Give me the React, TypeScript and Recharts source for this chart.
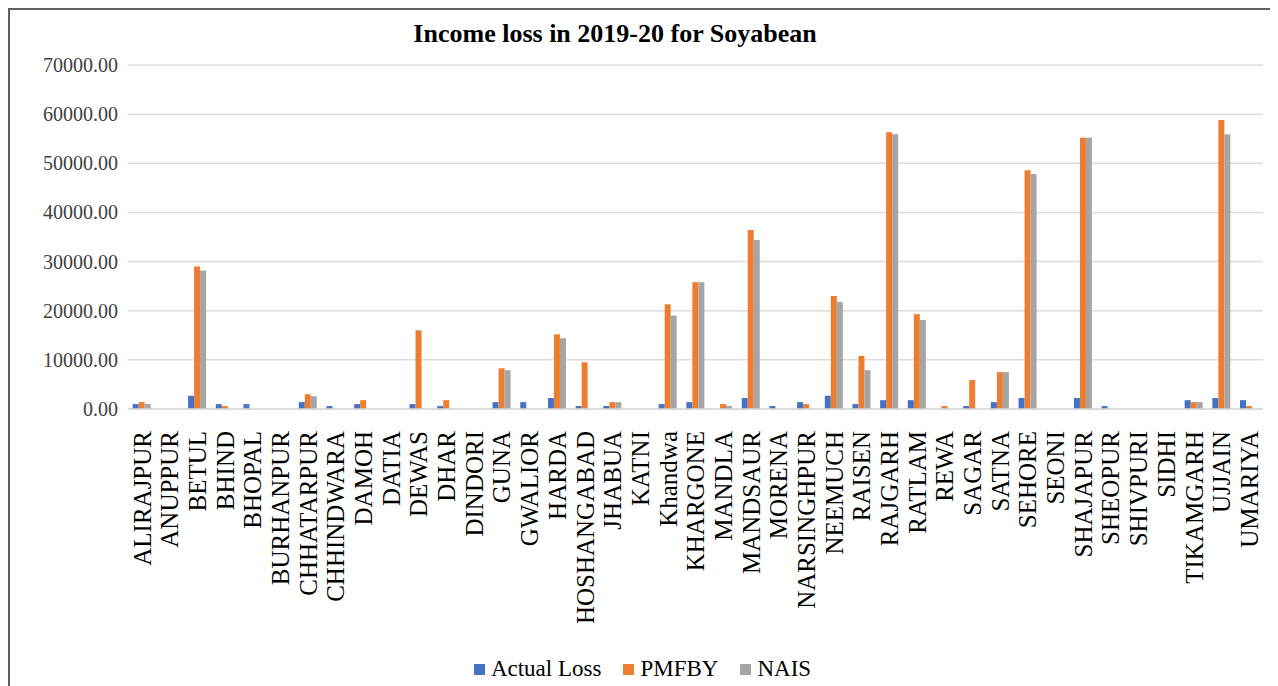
import React from 'react';
import { BarChart, Bar, XAxis, YAxis, CartesianGrid, Legend } from 'recharts';

const districts = [
  'ALIRAJPUR', 'ANUPPUR', 'BETUL', 'BHIND', 'BHOPAL', 'BURHANPUR', 'CHHATARPUR', 'CHHINDWARA',
  'DAMOH', 'DATIA', 'DEWAS', 'DHAR', 'DINDORI', 'GUNA', 'GWALIOR', 'HARDA', 'HOSHANGABAD',
  'JHABUA', 'KATNI', 'Khandwa', 'KHARGONE', 'MANDLA', 'MANDSAUR', 'MORENA', 'NARSINGHPUR',
  'NEEMUCH', 'RAISEN', 'RAJGARH', 'RATLAM', 'REWA', 'SAGAR', 'SATNA', 'SEHORE', 'SEONI',
  'SHAJAPUR', 'SHEOPUR', 'SHIVPURI', 'SIDHI', 'TIKAMGARH', 'UJJAIN', 'UMARIYA',
];

const actualLoss = [
  1000, 0, 2700, 1000, 1000, 0, 1400, 600, 1000, 0, 1000, 600, 0, 1400, 1400, 2240, 600,
  600, 0, 1000, 1400, 0, 2240, 600, 1400, 2700, 1000, 1800, 1800, 0, 600, 1400, 2240, 0,
  2240, 600, 0, 0, 1800, 2240, 1800,
];

const pmfby = [
  1400, 0, 29000, 600, 0, 0, 3000, 0, 1800, 0, 16000, 1800, 0, 8300, 0, 15200, 9500,
  1400, 0, 21300, 25800, 1000, 36400, 0, 1000, 23000, 10800, 56300, 19300, 600, 5900, 7500, 48600, 0,
  55200, 0, 0, 0, 1400, 58800, 600,
];

const nais = [
  1000, 0, 28200, 0, 0, 0, 2600, 0, 0, 0, 0, 0, 0, 7900, 0, 14400, 0,
  1400, 0, 19000, 25800, 600, 34400, 0, 0, 21800, 7900, 55900, 18100, 0, 0, 7500, 47800, 0,
  55200, 0, 0, 0, 1400, 55900, 0,
];

const yTicks = [0, 10000, 20000, 30000, 40000, 50000, 60000, 70000];

const series = [
  { key: 'actual', name: 'Actual Loss', color: '#4472C4' },
  { key: 'pmfby', name: 'PMFBY', color: '#ED7D31' },
  { key: 'nais', name: 'NAIS', color: '#A5A5A5' },
];

const data = districts.map((name, i) => ({
  name,
  actual: actualLoss[i],
  pmfby: pmfby[i],
  nais: nais[i],
}));

const FONT = '"Liberation Serif", "Times New Roman", serif';

const DistrictTick = (props: any) => {
  const { x, y, payload } = props;
  return (
    <g transform={`translate(${x},${y + 22})`}>
      <text
        transform="rotate(-90)"
        textAnchor="end"
        dy="0.35em"
        fill="#000"
        fontSize={25}
        fontFamily={FONT}
      >
        {payload.value}
      </text>
    </g>
  );
};

const ValueTick = (props: any) => {
  const { x, y, payload } = props;
  return (
    <text
      x={x}
      y={y}
      dy="0.35em"
      textAnchor="end"
      fill="#404040"
      fontSize={20}
      fontFamily={FONT}
    >
      {Number(payload.value).toFixed(2)}
    </text>
  );
};

const LegendContent = () => (
  <div
    style={{
      display: 'flex',
      justifyContent: 'center',
      alignItems: 'center',
      fontFamily: FONT,
      fontSize: 23,
      color: '#000',
      paddingLeft: 34,
      paddingTop: 2,
    }}
  >
    {series.map((s) => (
      <div key={s.key} style={{ display: 'flex', alignItems: 'center', marginRight: 22 }}>
        <span
          style={{ display: 'inline-block', width: 11, height: 11, background: s.color, marginRight: 6 }}
        />
        <span>{s.name}</span>
      </div>
    ))}
  </div>
);

const App: React.FC = () => {
  return (
    <div
      style={{
        position: 'relative',
        width: 1264,
        height: 690,
        border: '2px solid #606060',
        background: '#fff',
      }}
    >
      <div
        style={{
          position: 'absolute',
          top: 9,
          left: 0,
          width: 1210,
          textAlign: 'center',
          fontFamily: FONT,
          fontWeight: 'bold',
          fontSize: 26,
          color: '#000',
          zIndex: 1,
        }}
      >
        Income loss in 2019-20 for Soyabean
      </div>
      <BarChart
        width={1264}
        height={680}
        data={data}
        margin={{ top: 55, right: 11, left: 0, bottom: 0 }}
        barCategoryGap="17%"
        barGap={0}
      >
        <CartesianGrid vertical={false} stroke="#dcdcdc" strokeWidth={1.5} />
        <XAxis
          dataKey="name"
          interval={0}
          height={245}
          tick={<DistrictTick />}
          tickLine={false}
          tickSize={0}
          tickMargin={0}
          axisLine={{ stroke: '#d9d9d9', strokeWidth: 1.5 }}
        />
        <YAxis
          width={118}
          domain={[0, 70000]}
          ticks={yTicks}
          interval={0}
          axisLine={false}
          tickLine={false}
          tickSize={0}
          tickMargin={10}
          tick={<ValueTick />}
        />
        <Legend verticalAlign="bottom" height={36} content={<LegendContent />} />
        {series.map((s) => (
          <Bar key={s.key} dataKey={s.key} name={s.name} fill={s.color} isAnimationActive={false} />
        ))}
      </BarChart>
    </div>
  );
};

export default App;
